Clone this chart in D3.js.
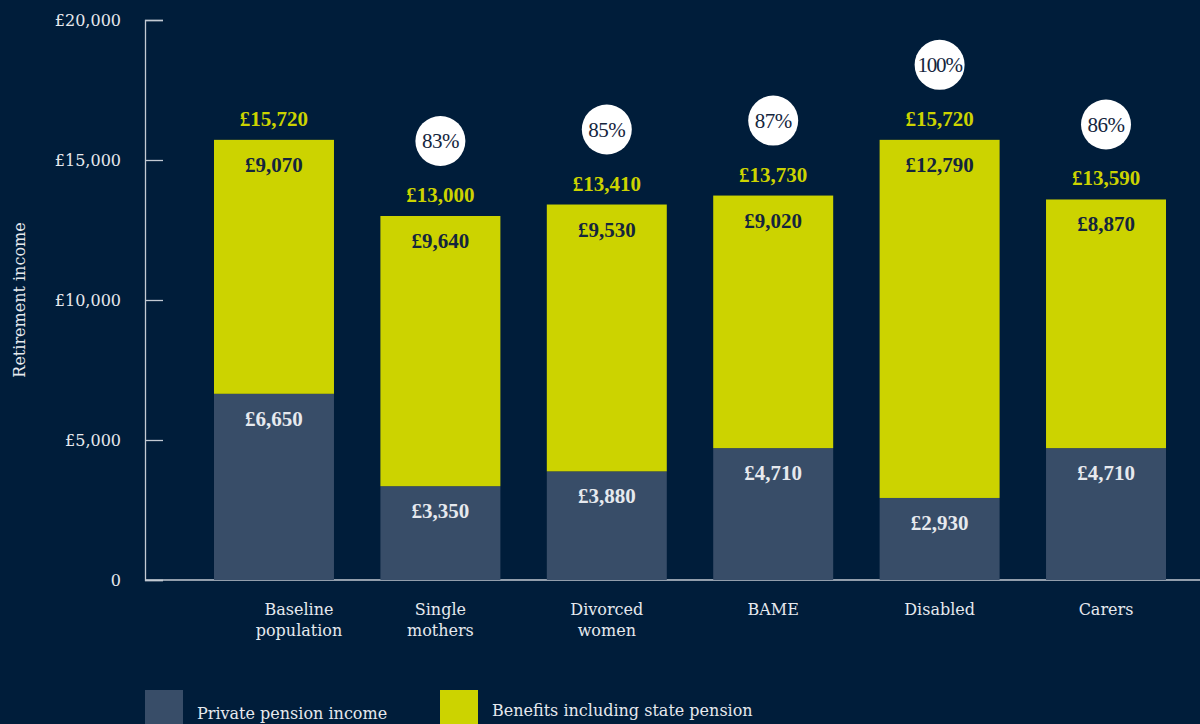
<!DOCTYPE html>
<html>
<head>
<meta charset="utf-8">
<script src="https://cdn.jsdelivr.net/npm/d3@7"></script>
<style>
  body { margin: 0; background: #001d3a; }
  svg { display: block; font-family: "DejaVu Serif", "Liberation Serif", serif; }
</style>
</head>
<body>
<svg id="chart" width="1200" height="724"></svg>
<script>
// dati
const categories = ['Baseline population', 'Single mothers', 'Divorced women', 'BAME', 'Disabled', 'Carers']
const privatePension = [6650, 3350, 3880, 4710, 2930, 4710]
const benefits = [9070, 9640, 9530, 9020, 12790, 8870]
const totals = [15720, 13000, 13410, 13730, 15720, 13590]
const percentages = [null, '83%', '85%', '87%', '100%', '86%']
const yTicks = [0, 5000, 10000, 15000, 20000]
const seriesNames = ['Private pension income', 'Benefits including state pension']

const bg = '#001d3a'
const privateColor = '#384d68'
const benefitColor = '#ccd300'
const lightText = '#e6e9ee'
const darkText = '#14253d'
const valueFont = '"Liberation Serif", serif'

const svg = d3.select('#chart')
svg.append('rect').attr('width', 1200).attr('height', 724).attr('fill', bg)

const plotLeft = 145, plotRight = 1200, plotTop = 20, plotBottom = 580

const x = d3.scaleBand()
  .domain(categories)
  .range([190.7, 1189.3])
  .paddingInner(0.279)
  .paddingOuter(0.14)

const y = d3.scaleLinear()
  .domain([0, 20000])
  .range([plotBottom, plotTop])

// asse y
const yAxis = d3.axisLeft(y)
  .tickValues(yTicks)
  .tickSize(-18)
  .tickPadding(24)
  .tickFormat(d => d === 0 ? '0' : '£' + d3.format(',')(d))

const gy = svg.append('g')
  .attr('transform', `translate(${plotLeft},0)`)
  .call(yAxis)
gy.select('path.domain').attr('stroke', '#c3cad3').attr('stroke-width', 1.3)
gy.selectAll('.tick line').attr('stroke', '#c3cad3').attr('stroke-width', 1.3)
gy.selectAll('.tick text')
  .attr('fill', lightText)
  .style('font-family', '"DejaVu Serif", serif')
  .style('font-size', '16px')
  .attr('dy', '0.35em')

// etichetta asse y
svg.append('text')
  .attr('transform', `translate(25, ${(plotTop + plotBottom) / 2}) rotate(-90)`)
  .attr('text-anchor', 'middle')
  .attr('fill', lightText)
  .style('font-size', '16px')
  .text('Retirement income')

// linea di base
svg.append('line')
  .attr('x1', plotLeft).attr('x2', plotRight)
  .attr('y1', y(0)).attr('y2', y(0))
  .attr('stroke', '#c3cad3').attr('stroke-width', 1.3)

const rows = categories.map((c, i) => ({
  cat: c, priv: privatePension[i], ben: benefits[i], total: totals[i], pct: percentages[i]
}))

const bars = svg.append('g').selectAll('g').data(rows).enter().append('g')

// barre pensione privata
bars.append('rect')
  .attr('x', d => x(d.cat))
  .attr('width', x.bandwidth())
  .attr('y', d => y(d.priv))
  .attr('height', d => y(0) - y(d.priv))
  .attr('fill', privateColor)

// barre benefici
bars.append('rect')
  .attr('x', d => x(d.cat))
  .attr('width', x.bandwidth())
  .attr('y', d => y(d.total))
  .attr('height', d => y(d.priv) - y(d.total))
  .attr('fill', benefitColor)

const fmt = v => '£' + d3.format(',')(v)
const cx = d => x(d.cat) + x.bandwidth() / 2

bars.append('text')
  .attr('x', cx)
  .attr('y', d => y(d.priv) + 32)
  .attr('text-anchor', 'middle')
  .attr('fill', lightText)
  .style('font-family', valueFont)
  .style('font-size', '21px').style('font-weight', 'bold')
  .text(d => fmt(d.priv))

bars.append('text')
  .attr('x', cx)
  .attr('y', d => y(d.total) + 32)
  .attr('text-anchor', 'middle')
  .attr('fill', darkText)
  .style('font-family', valueFont)
  .style('font-size', '21px').style('font-weight', 'bold')
  .text(d => fmt(d.ben))

bars.append('text')
  .attr('x', cx)
  .attr('y', d => y(d.total) - 14)
  .attr('text-anchor', 'middle')
  .attr('fill', benefitColor)
  .style('font-family', valueFont)
  .style('font-size', '21px').style('font-weight', 'bold')
  .text(d => fmt(d.total))

// cerchi percentuali
const pct = bars.filter(d => d.pct)
pct.append('circle')
  .attr('cx', cx)
  .attr('cy', d => y(d.total) - 75)
  .attr('r', 25)
  .attr('fill', '#ffffff')
pct.append('text')
  .attr('x', cx)
  .attr('y', d => y(d.total) - 75)
  .attr('dy', '0.34em')
  .attr('text-anchor', 'middle')
  .attr('fill', darkText)
  .style('font-family', valueFont)
  .style('font-size', '21px')
  .style('letter-spacing', d => d.pct.length > 3 ? '-1.2px' : '-0.5px')
  .text(d => d.pct)

// etichette categorie
const catLabels = svg.append('g').selectAll('text').data(rows).enter().append('text')
  .attr('x', (d, i) => cx(d) + (i === 0 ? 25 : 0))
  .attr('y', 615)
  .attr('text-anchor', 'middle')
  .attr('fill', lightText)
  .style('font-size', '16px')
catLabels.each(function(d) {
  const words = d.cat.split(' ')
  const t = d3.select(this)
  words.forEach((w, j) => {
    t.append('tspan')
      .attr('x', t.attr('x'))
      .attr('dy', j === 0 ? 0 : 21)
      .text(w)
  })
})

// legenda
const legend = [
  { name: seriesNames[0], color: privateColor, x: 145, ty: 719 },
  { name: seriesNames[1], color: benefitColor, x: 440, ty: 716 }
]
const lg = svg.append('g').selectAll('g').data(legend).enter().append('g')
lg.append('rect')
  .attr('x', d => d.x).attr('y', 690)
  .attr('width', 38).attr('height', 40)
  .attr('fill', d => d.color)
lg.append('text')
  .attr('x', d => d.x + 52)
  .attr('y', d => d.ty)
  .attr('fill', lightText)
  .style('font-size', '16px')
  .text(d => d.name)
</script>
</body>
</html>
